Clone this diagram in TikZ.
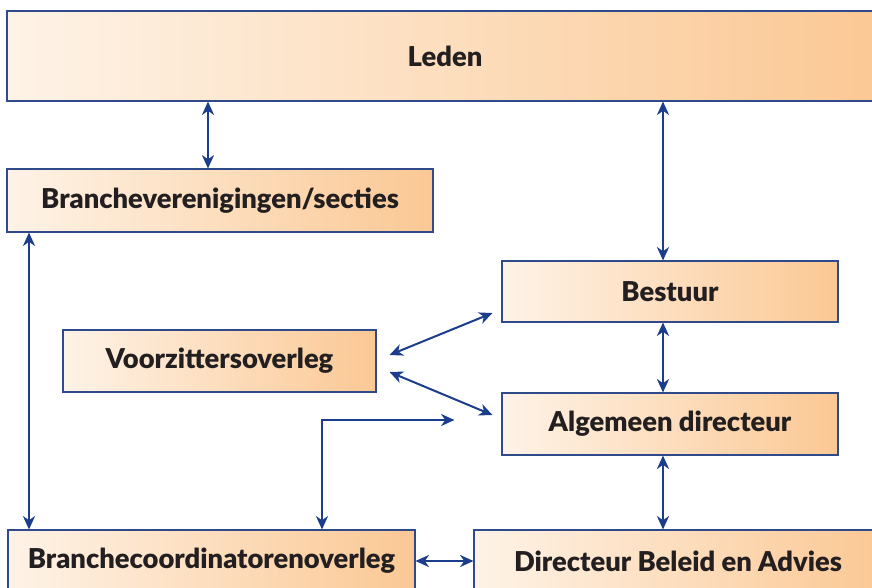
\documentclass[tikz,border=0pt]{standalone}
\usepackage{fontspec}
\setmainfont{Lato}[BoldFont={* Black}]
\usepackage{xcolor}
\usetikzlibrary{arrows.meta, calc}

\definecolor{boxline}{HTML}{2F4A8A}
\definecolor{arrowblue}{HTML}{1C3D8C}
\definecolor{boxleft}{HTML}{FEF3E7}
\definecolor{boxright}{HTML}{FBC894}
\definecolor{textdark}{HTML}{231F20}

\begin{document}
\begin{tikzpicture}[
    x=0.75pt, y=-0.75pt,
    orgbox/.style={rectangle, draw=boxline, line width=0.8pt, left color=boxleft, right color=boxright,
        inner sep=0pt, text=textdark, font=\bfseries\fontsize{20.5}{22}\selectfont},
    arr/.style={draw=arrowblue, line width=1.5pt, {Stealth[length=10pt, width=9pt, inset=3pt]}-{Stealth[length=10pt, width=9pt, inset=3pt]}}
]
\useasboundingbox (0,0) rectangle (872,587);

% boxes
\node[orgbox, minimum width=657pt, minimum height=67.5pt](led) at (445,56){Leden};
\node[orgbox, minimum width=319.5pt, minimum height=47.25pt](bra) at (220,200.5){Brancheverenigingen/secties};
\node[orgbox, minimum width=252pt, minimum height=45.75pt](bes) at (670,291.5){Bestuur};
\node[orgbox, minimum width=234.75pt, minimum height=46.5pt](vzo) at (219.5,361){Voorzittersoverleg};
\node[orgbox, minimum width=252pt, minimum height=46.5pt](alg) at (670,424){Algemeen directeur};
\node[orgbox, minimum width=305.25pt, minimum height=46.5pt](bco) at (211.5,561){Branchecoordinatorenoverleg};
\node[orgbox, minimum width=306pt, minimum height=46.5pt](dir) at (678,561){Directeur Beleid en Advies};

% helper positions
\coordinate (c1) at (208,0);
\coordinate (c2) at (663,0);
\coordinate (c3) at (29,0);
\coordinate (c4) at (322,0);
\coordinate (free) at ($(alg.west)+(-47,-4)$);

% connectors
\draw[arr] (led.south -| c1) -- (bra.north -| c1);
\draw[arr] (led.south -| c2) -- (bes.north -| c2);
\draw[arr] (bra.south -| c3) -- (bco.north -| c3);
\draw[arr] (bes.south -| c2) -- (alg.north -| c2);
\draw[arr] (alg.south -| c2) -- (dir.north -| c2);
\draw[arr] ($(vzo.east)+(13,-6)$) -- ($(bes.west)+(-9,21.5)$);
\draw[arr] ($(vzo.east)+(13,11)$) -- ($(alg.west)+(-9,-9)$);
\draw[arr] (free) -| (c4 |- bco.north);
\draw[arr] (bco.east) -- (dir.west);
\end{tikzpicture}
\end{document}
